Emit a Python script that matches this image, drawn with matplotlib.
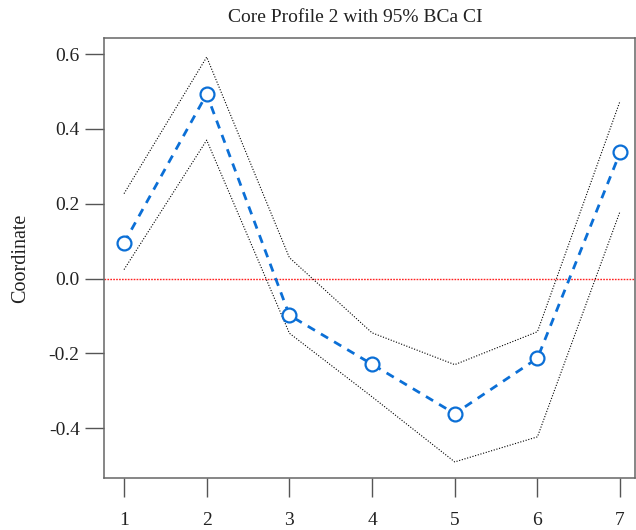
import numpy as np
import matplotlib
matplotlib.use("Agg")
import matplotlib.pyplot as plt

# values
x = [1, 2, 3, 4, 5, 6, 7]
coord = [0.095, 0.493, -0.098, -0.229, -0.361, -0.213, 0.337]
upper = [0.227, 0.592, 0.056, -0.145, -0.230, -0.142, 0.475]
lower = [0.024, 0.370, -0.146, -0.316, -0.490, -0.423, 0.180]
yticks = [-0.4, -0.2, 0.0, 0.2, 0.4, 0.6]
ytick_labels = ["-0.4", "-0.2", "0.0", "0.2", "0.4", "0.6"]

plt.rcParams['font.family'] = ['Liberation Serif', 'DejaVu Serif']
fs = 14

fig = plt.figure(figsize=(6.36, 5.30), dpi=100)
ax = fig.add_axes([104/636, 52/530, 531/636, 440/530])

ax.axhline(0, color='#ff2020', linestyle=(0, (1.2, 0.9)), linewidth=1.0, zorder=1)
ax.plot(x, upper, color='black', linestyle=(0, (1, 1.5)), linewidth=0.8, zorder=2)
ax.plot(x, lower, color='black', linestyle=(0, (1, 1.5)), linewidth=0.8, zorder=2)
ax.plot(x, coord, color='#0b6fd6', linestyle=(0, (3, 2.5)), linewidth=2.0,
        marker='o', markersize=10, markerfacecolor='white',
        markeredgecolor='#0b6fd6', markeredgewidth=1.6, zorder=3)

ax.set_xlim(0.758, 7.18)
ax.set_ylim(-0.533, 0.643)
ax.set_xticks(x)
ax.set_xticklabels([str(v) for v in x], fontsize=fs, color='#222222')
ax.set_yticks(yticks)
ax.set_yticklabels(ytick_labels, fontsize=fs, color='#222222')
ax.tick_params(axis='x', length=13.5, width=1.0, color='#555555', pad=11)
ax.tick_params(axis='y', length=13.5, width=1.0, color='#555555', pad=4)
for s in ax.spines.values():
    s.set_color('#666666')
    s.set_linewidth(1.1)

ax.set_ylabel('Coordinate', fontsize=14.5, color='#222222')
ax.yaxis.set_label_coords((30 - 104) / 531, 0.5)

fig.text(355/636, 1 - 17/530, 'Core Profile 2 with 95% BCa CI', fontsize=fs,
         ha='center', va='center', color='#222222')

fig.savefig('out.png', dpi=100)
